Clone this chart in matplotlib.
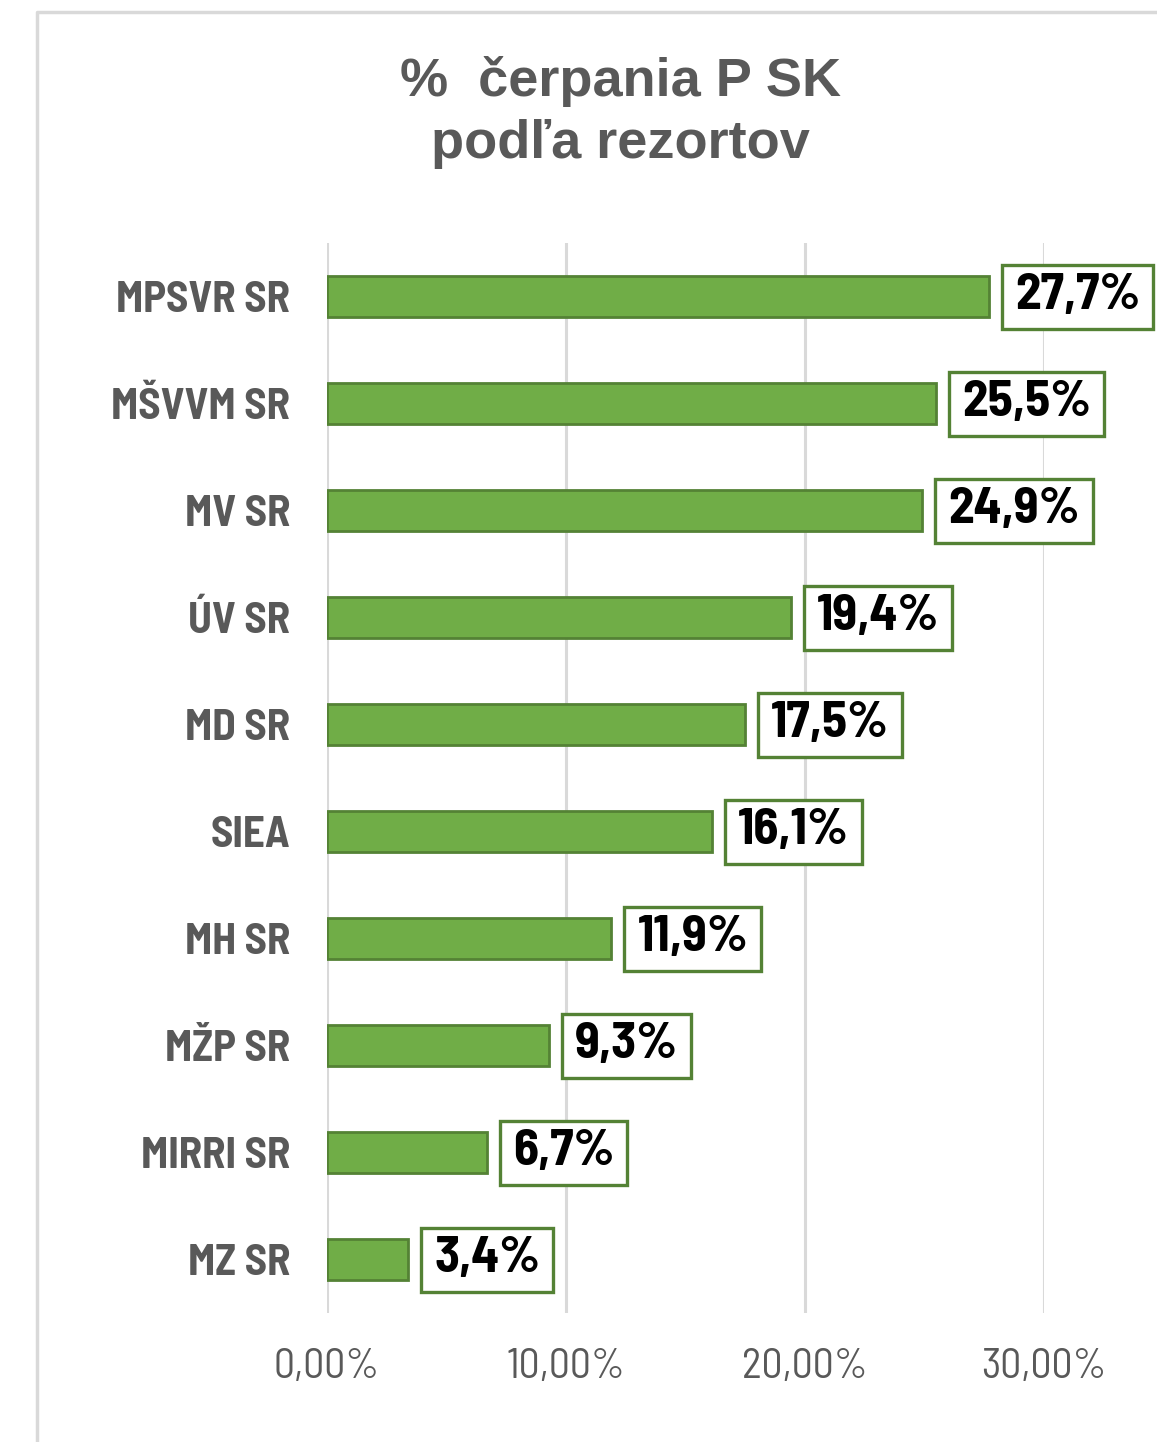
import matplotlib
matplotlib.use('Agg')
import matplotlib.pyplot as plt
from matplotlib import font_manager
from matplotlib.lines import Line2D
from matplotlib.patches import Rectangle
from matplotlib.transforms import IdentityTransform

# data
rezorty = ['MPSVR SR', 'MŠVVM SR', 'MV SR', 'ÚV SR', 'MD SR',
           'SIEA', 'MH SR', 'MŽP SR', 'MIRRI SR', 'MZ SR']
cerpanie = [27.7, 25.5, 24.9, 19.4, 17.5, 16.1, 11.9, 9.3, 6.7, 3.4]
x_ticks = [0, 10, 20, 30]
x_tick_labels = ['0,00%', '10,00%', '20,00%', '30,00%']
title = '%  čerpania P SK\npodľa rezortov'

names = {f.name for f in font_manager.fontManager.ttflist}
narrow = 'Barlow Semi Condensed'
for cand in ['Liberation Sans Narrow', 'Arial Narrow']:
    if cand in names:
        narrow = cand
        break

gray = '#595959'
grid_gray = '#D9D9D9'
bar_green = '#70AD47'
edge_green = '#548235'

fig = plt.figure(figsize=(11.57, 14.42), dpi=100)
ax = fig.add_axes([0.2826, 0.0895, 0.9023 - 0.2826, 0.8315 - 0.0895])

ypos = list(range(len(rezorty)))
ax.barh(ypos, cerpanie, height=0.39, color=bar_green, edgecolor=edge_green,
        linewidth=2, zorder=3)

ax.set_xlim(0, 30)
ax.set_ylim(len(rezorty) - 0.5, -0.5)
ax.set_xticks(x_ticks)
ax.set_xticklabels(x_tick_labels, fontfamily=narrow, fontsize=30, color=gray)
ax.set_yticks(ypos)
ax.set_yticklabels(rezorty, fontfamily=narrow, fontsize=31, color=gray,
                   fontweight='bold')
ax.tick_params(axis='both', length=0)
ax.tick_params(axis='x', pad=25)
ax.tick_params(axis='y', pad=26.5)
for s in ax.spines.values():
    s.set_visible(False)
ax.grid(axis='x', color=grid_gray, linewidth=2.2, zorder=0)

# value labels, framed below once their width is known
gap_px, padx_px, box_h = 13, 13, 64
labels = []
for i, v in enumerate(cerpanie):
    t = ax.annotate(f'{v:.1f}%'.replace('.', ','), xy=(v, i),
                    xytext=((gap_px + padx_px) * 0.72, 1),
                    textcoords='offset points', ha='left', va='center',
                    fontfamily=narrow, fontsize=37, fontweight='bold',
                    color='black', annotation_clip=False, zorder=5)
    labels.append(t)

fig.text(0.536, 0.922, title, ha='center', va='center', fontsize=39,
         fontweight='bold', color=gray, fontfamily='Liberation Sans',
         linespacing=1.33)

# chart area border (left and top edges)
W, H = 1157, 1442
fig.add_artist(Line2D([37 / W, 37 / W, 1.0], [0.0, 1 - 12 / H, 1 - 12 / H],
                      color=grid_gray, linewidth=2.5, transform=fig.transFigure))

fig.canvas.draw()
renderer = fig.canvas.get_renderer()
for i, (t, v) in enumerate(zip(labels, cerpanie)):
    bb = t.get_window_extent(renderer)
    x0, yc = ax.transData.transform((v, i))
    rect = Rectangle((x0 + gap_px, yc - box_h / 2 - 1), bb.width + 2 * padx_px, box_h,
                     facecolor='white', edgecolor=edge_green, linewidth=2.4,
                     transform=IdentityTransform(), zorder=4, clip_on=False)
    ax.add_artist(rect)

fig.savefig('out.png', dpi=100)
